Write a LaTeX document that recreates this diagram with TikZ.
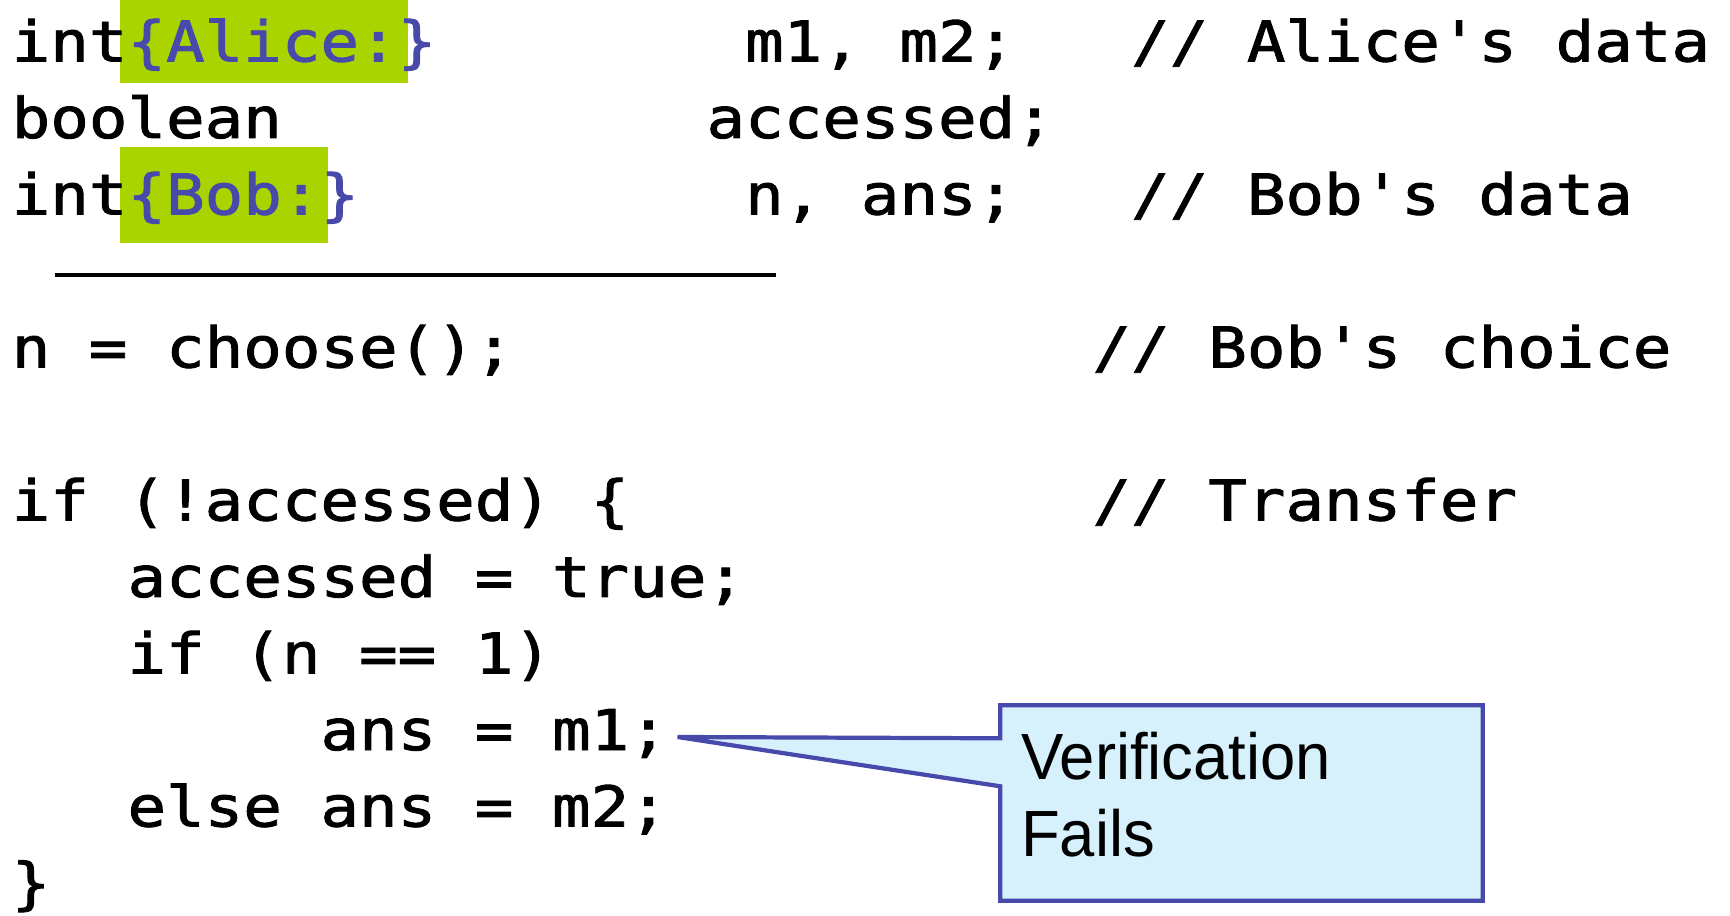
\documentclass[tikz,border=0pt]{standalone}
\usepackage{fontspec}
\usepackage{tikz}
\usetikzlibrary{positioning}

\newfontfamily\codefont[FakeStretch=1.14,FakeBold=1.6,Ligatures=TeXOff]{DejaVu Sans Mono}
\newfontfamily\notefont[FakeStretch=0.97]{Liberation Sans}
\definecolor{labelblue}{RGB}{71,74,170}
\definecolor{labelgreen}{RGB}{170,212,0}
\definecolor{notefill}{RGB}{214,240,252}

\begin{document}
\begin{tikzpicture}[
    codeline/.style={anchor=base west, inner sep=0pt, font={\codefont\fontsize{16}{19}\selectfont}},
    seclabel/.style={codeline, text=labelblue},
    notetext/.style={anchor=base west, inner sep=0pt, font={\notefont\fontsize{18.6}{22}\selectfont}}
  ]
  \useasboundingbox (0,0) rectangle (17.3,9.15);

  % highlights behind the labels
  \fill[labelgreen] (1.20,8.32) rectangle (4.08,9.15);
  \fill[labelgreen] (1.20,6.72) rectangle (3.28,7.68);

  % declarations
  \node[codeline] (int1) at (0.11,8.535) {int};
  \node[seclabel] (alice) at (1.268,8.535) {\{Alice:\}};
  \node[codeline] (mvars) at (7.444,8.535) {m1, m2;};
  \node[codeline] (cmalice) at (11.304,8.535) {// Alice's data};
  \node[codeline] (bool) at (0.11,7.770) {boolean};
  \node[codeline] (acc) at (7.058,7.770) {accessed;};
  \node[codeline] (int2) at (0.11,7.005) {int};
  \node[seclabel] (bob) at (1.268,7.005) {\{Bob:\}};
  \node[codeline] (nvars) at (7.444,7.005) {n, ans;};
  \node[codeline] (cmbob) at (11.304,7.005) {// Bob's data};

  \draw[line width=1.4pt] (0.55,6.40) -- (7.76,6.40); % separator

  % program
  \node[codeline] (choose) at (0.11,5.475) {n = choose();};
  \node[codeline] (cmchoice) at (10.918,5.475) {// Bob's choice};
  \node[codeline] (iftest) at (0.11,3.945) {if (!accessed) \{};
  \node[codeline] (cmtrans) at (10.918,3.945) {// Transfer};
  \node[codeline] (setacc) at (1.268,3.180) {accessed = true;};
  \node[codeline] (ifn) at (1.268,2.415) {if (n == 1)};
  \node[codeline] (ansm1) at (3.198,1.650) {ans = m1;};
  \node[codeline] (ansm2) at (1.268,0.885) {else ans = m2;};
  \node[codeline] (close) at (0.11,0.120) {\}};

  % callout
  \node[minimum width=4.81cm, minimum height=1.94cm, inner sep=0pt] (callout) at (12.415,1.12) {};
  \coordinate (tip) at ([shift={(0.09,0.13)}]ansm1.base east);
  \coordinate (ptop) at ([yshift=-0.33cm]callout.north west);
  \coordinate (pbot) at ([yshift=-0.81cm]callout.north west);
  \filldraw[fill=notefill, draw=labelblue, line width=1.2pt]
    (callout.north west) -- (callout.north east) -- (callout.south east)
    -- (callout.south west) -- (pbot) -- (tip) -- (ptop) -- cycle;
  \node[notetext] (verif) at ([shift={(0.20,-0.74)}]callout.north west) {Verification};
  \node[notetext] (fails) at ([yshift=-0.77cm]verif.base west) {Fails};
\end{tikzpicture}
\end{document}
